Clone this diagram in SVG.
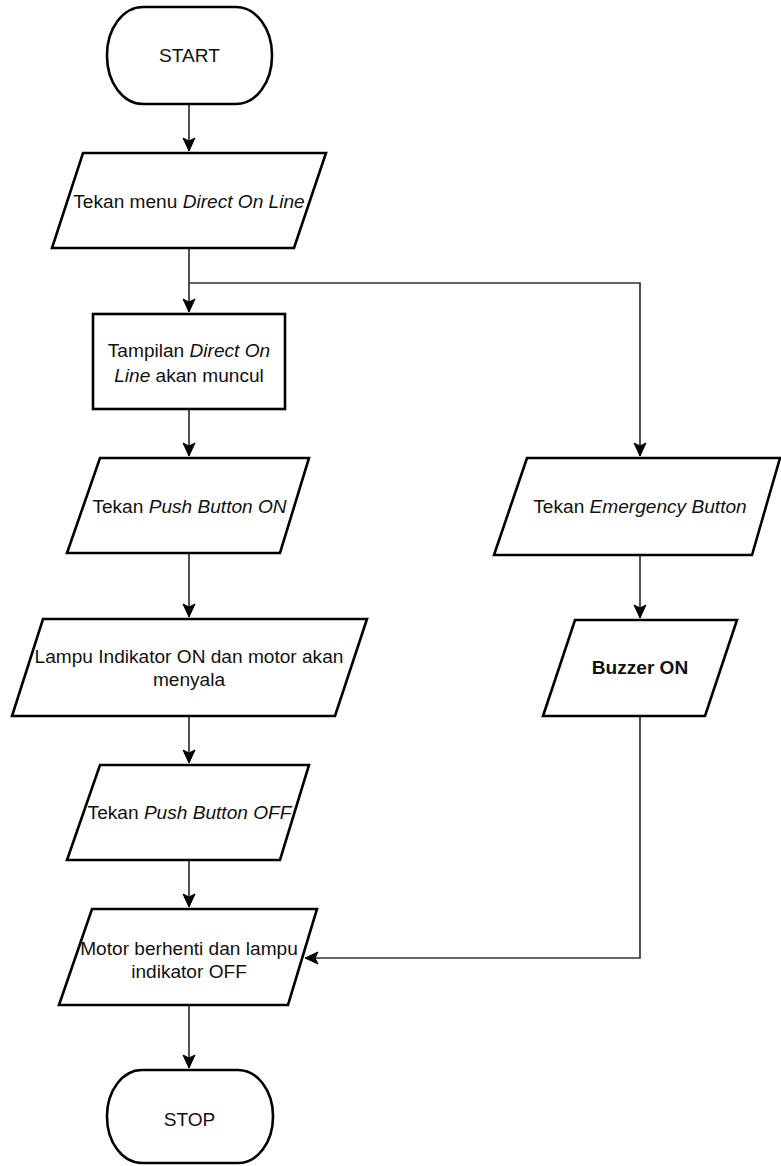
<svg xmlns="http://www.w3.org/2000/svg" width="781" height="1166" viewBox="0 0 781 1166">
  <style>
    .shape { fill: #ffffff; stroke: #000000; stroke-width: 2.6; stroke-linejoin: miter; }
    .edge { fill: none; stroke: #333333; stroke-width: 1.7; }
    .label { font-family: "Liberation Sans", Arial, sans-serif; font-size: 19.1px; fill: #111111; text-anchor: middle; }
    .em { font-style: italic; }
    .bold { font-weight: bold; }
  </style>
  <defs>
    <marker id="arrow" markerUnits="userSpaceOnUse" markerWidth="16" markerHeight="16" refX="0" refY="0" viewBox="-14 -8 16 16" orient="auto">
      <path d="M -13 -6 L 0 0 L -13 6 L -10 0 Z" fill="#000000" stroke="#000000" stroke-width="1"/>
    </marker>
  </defs>

  <rect width="781" height="1166" fill="#ffffff"/>

  <!-- connectors -->
  <g id="connectors">
    <path class="edge" d="M189 104 L189 151" marker-end="url(#arrow)"/>
    <path class="edge" d="M189 248 L189 312" marker-end="url(#arrow)"/>
    <path class="edge" d="M189 283 L640 283 L640 456" marker-end="url(#arrow)"/>
    <path class="edge" d="M189 409 L189 456" marker-end="url(#arrow)"/>
    <path class="edge" d="M189 553 L189 617" marker-end="url(#arrow)"/>
    <path class="edge" d="M189 716 L189 763" marker-end="url(#arrow)"/>
    <path class="edge" d="M189 860 L189 907" marker-end="url(#arrow)"/>
    <path class="edge" d="M189 1005 L189 1068" marker-end="url(#arrow)"/>
    <path class="edge" d="M640 555 L640 618" marker-end="url(#arrow)"/>
    <path class="edge" d="M640 716 L640 958 L305 958" marker-end="url(#arrow)"/>
  </g>

  <!-- main flow -->
  <g id="start">
    <rect class="shape" x="107" y="7" width="165" height="97" rx="36" ry="48"/>
    <text class="label" x="189.5" y="62">START</text>
  </g>

  <g id="menu-dol">
    <polygon class="shape" points="83,153 326,153 294,248 52,248"/>
    <text class="label" x="189" y="208">Tekan menu <tspan class="em">Direct On Line</tspan></text>
  </g>

  <g id="tampilan-dol">
    <rect class="shape" x="93" y="314" width="192" height="95"/>
    <text class="label" x="189" y="357">Tampilan <tspan class="em">Direct On</tspan></text>
    <text class="label" x="189" y="382"><tspan class="em">Line</tspan> akan muncul</text>
  </g>

  <g id="push-on">
    <polygon class="shape" points="100,458 309,458 280,553 67,553"/>
    <text class="label" x="189.5" y="513">Tekan <tspan class="em">Push Button ON</tspan></text>
  </g>

  <g id="lampu-on">
    <polygon class="shape" points="43,619 367,619 335,716 12,716"/>
    <text class="label" x="189" y="663">Lampu Indikator ON dan motor akan</text>
    <text class="label" x="189" y="686">menyala</text>
  </g>

  <g id="push-off">
    <polygon class="shape" points="100,765 309,765 280,860 67,860"/>
    <text class="label" x="189.5" y="819">Tekan <tspan class="em">Push Button OFF</tspan></text>
  </g>

  <g id="motor-off">
    <polygon class="shape" points="92,909 317,909 288,1005 59,1005"/>
    <text class="label" x="189" y="955">Motor berhenti dan lampu</text>
    <text class="label" x="189" y="978">indikator OFF</text>
  </g>

  <g id="stop">
    <rect class="shape" x="107" y="1070" width="166" height="93" rx="35" ry="46"/>
    <text class="label" x="189.5" y="1126">STOP</text>
  </g>

  <!-- emergency branch -->
  <g id="emergency">
    <polygon class="shape" points="527,458 780,458 752,555 494,555"/>
    <text class="label" x="640" y="513">Tekan <tspan class="em">Emergency Button</tspan></text>
  </g>

  <g id="buzzer">
    <polygon class="shape" points="575,620 737,620 705,716 543,716"/>
    <text class="label bold" x="640" y="674">Buzzer ON</text>
  </g>
</svg>
